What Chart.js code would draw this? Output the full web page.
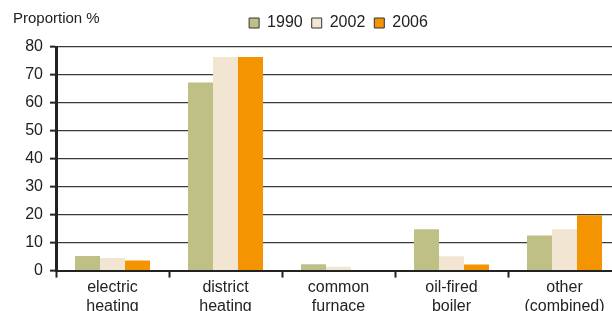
<!DOCTYPE html>
<html>
<head>
<meta charset="utf-8">
<script src="https://cdn.jsdelivr.net/npm/chart.js@4/dist/chart.umd.min.js"></script>
<style>
  html, body { margin: 0; padding: 0; background: #fff; overflow: hidden; }
  #wrap { position: relative; width: 622px; height: 316px; }
</style>
</head>
<body>
<div id="wrap"><canvas id="heatingChart"></canvas></div>
<script>
const categories = [
  ["electric", "heating"],
  ["district", "heating"],
  ["common", "furnace"],
  ["oil-fired", "boiler"],
  ["other", "(combined)"]
];
const years = ["1990", "2002", "2006"];
const values1990 = [5.2, 67.3, 2.3, 14.8, 12.6];
const values2002 = [4.5, 76.4, 1.4, 5.1, 14.8];
const values2006 = [3.6, 76.4, 0, 2.2, 19.8];
const yTicks = [0, 10, 20, 30, 40, 50, 60, 70, 80];
const barColors = ["#bfc085", "#f2e6d2", "#f39400"];

const FONT = "'Liberation Sans', Arial, sans-serif";

// draws the "Proportion %" label in the top left corner
const axisTitle = {
  id: "axisTitle",
  afterDraw(chart) {
    const ctx = chart.ctx;
    ctx.save();
    ctx.font = "15px " + FONT;
    ctx.fillStyle = "#222";
    ctx.textBaseline = "middle";
    ctx.textAlign = "left";
    ctx.fillText("Proportion %", 13, 19);
    ctx.restore();
  }
};

// extra space under the legend
const legendMargin = {
  id: "legendMargin",
  beforeInit(chart) {
    const fit = chart.legend.fit;
    chart.legend.fit = function () {
      fit.bind(chart.legend)();
      this.height += 6;
    };
  }
};

const ctx = document.getElementById("heatingChart").getContext("2d");

new Chart(ctx, {
  type: "bar",
  data: {
    labels: categories,
    datasets: [values1990, values2002, values2006].map((vals, i) => ({
      label: years[i],
      data: vals,
      backgroundColor: barColors[i],
      borderWidth: 0
    }))
  },
  options: {
    responsive: true,
    maintainAspectRatio: false,
    animation: false,
    layout: { padding: { top: 6, left: 0, right: 1, bottom: 0 } },
    datasets: {
      bar: { barPercentage: 1, categoryPercentage: 0.664 }
    },
    plugins: {
      tooltip: { enabled: false },
      legend: {
        display: true,
        position: "top",
        fullSize: false,
        labels: {
          font: { family: FONT, size: 16 },
          color: "#222",
          boxWidth: 10,
          boxHeight: 10,
          padding: 9,
          generateLabels(chart) {
            return Chart.defaults.plugins.legend.labels.generateLabels(chart).map(item => {
              item.strokeStyle = "#333";
              item.lineWidth = 1;
              return item;
            });
          }
        }
      }
    },
    scales: {
      x: {
        grid: {
          offset: true,
          drawOnChartArea: false,
          tickLength: 7,
          tickColor: "#222",
          tickWidth: 2
        },
        border: { color: "#222", width: 2 },
        ticks: {
          font: { family: FONT, size: 16 },
          color: "#222",
          padding: 0,
          maxRotation: 0,
          autoSkip: false
        }
      },
      y: {
        min: 0,
        max: 80,
        afterFit(scale) { scale.width = 56; },
        afterBuildTicks(scale) {
          scale.ticks = yTicks.map(v => ({ value: v }));
        },
        grid: {
          color: "#3a3a3a",
          lineWidth: 1.3,
          tickLength: 6,
          tickColor: "#222",
          tickWidth: 2
        },
        border: { color: "#222", width: 3 },
        ticks: {
          font: { family: FONT, size: 16 },
          color: "#222",
          padding: 7
        }
      }
    }
  },
  plugins: [axisTitle, legendMargin]
});
</script>
</body>
</html>
